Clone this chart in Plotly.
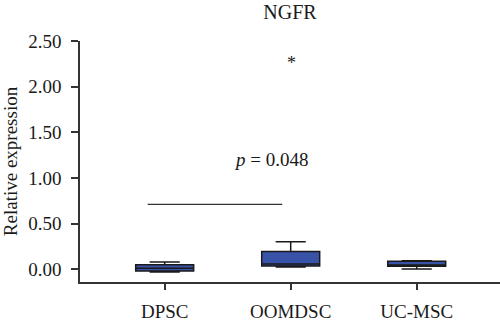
import plotly.graph_objects as go

# Relative NGFR expression per cell type (box summary statistics)
groups = ["DPSC", "OOMDSC", "UC-MSC"]
lower_whisker = [-0.03, 0.025, 0.003]
q1_values = [-0.02, 0.036, 0.032]
medians = [0.01, 0.057, 0.045]
q3_values = [0.05, 0.195, 0.086]
upper_whisker = [0.08, 0.30, 0.094]

# Significance annotation
sig_label = "<i>p</i> = 0.048"
sig_bar_y = 0.71
star_y = 2.26

y_ticks = [0.0, 0.5, 1.0, 1.5, 2.0, 2.5]
y_tick_text = ["0.00", "0.50", "1.00", "1.50", "2.00", "2.50"]

FONT = "Liberation Serif, Times New Roman, serif"
AXIS_COLOR = "#333333"
TEXT_COLOR = "#1a1a1a"

fig = go.Figure()
fig.add_trace(go.Box(
    x=groups,
    q1=q1_values,
    median=medians,
    q3=q3_values,
    lowerfence=lower_whisker,
    upperfence=upper_whisker,
    boxpoints=False,
    width=0.46,
    whiskerwidth=0.52,
    fillcolor="#3853A8",
    line=dict(color="#1a1a1a", width=1.5),
    showlegend=False,
))

# Bracket line between groups
fig.add_shape(type="line", xref="x", yref="y",
              x0=-0.135, x1=0.933, y0=sig_bar_y, y1=sig_bar_y,
              line=dict(color="#333333", width=1.3))

fig.add_annotation(x=0.84, y=1.2, xref="x", yref="y", text=sig_label,
                   showarrow=False, font=dict(family=FONT, size=19, color=TEXT_COLOR))
fig.add_annotation(x=1.01, y=star_y, xref="x", yref="y", text="*",
                   showarrow=False, font=dict(family=FONT, size=18, color=TEXT_COLOR))

fig.update_layout(
    width=500, height=322,
    margin=dict(l=80, r=0, t=41, b=37),
    paper_bgcolor="white", plot_bgcolor="white",
    font=dict(family=FONT, size=19, color=TEXT_COLOR),
    title=dict(text="NGFR", x=0.58, xref="container", xanchor="center",
               y=1 - 12 / 322, yref="container", yanchor="middle",
               font=dict(family=FONT, size=20, color=TEXT_COLOR)),
    xaxis=dict(
        type="category", range=[-0.672, 2.661],
        showline=True, linecolor=AXIS_COLOR, linewidth=1.5,
        ticks="outside", ticklen=6, tickwidth=1.5, tickcolor=AXIS_COLOR,
        showgrid=False, zeroline=False, ticklabelstandoff=5,
        tickfont=dict(family=FONT, size=19, color=TEXT_COLOR),
    ),
    yaxis=dict(
        range=[-0.14, 2.5],
        tickvals=y_ticks, ticktext=y_tick_text,
        showline=True, linecolor=AXIS_COLOR, linewidth=1.5,
        ticks="outside", ticklen=7, tickwidth=1.5, tickcolor=AXIS_COLOR,
        showgrid=False, zeroline=False, ticklabelstandoff=6,
        tickfont=dict(family=FONT, size=19, color=TEXT_COLOR),
        title=dict(text="Relative expression", standoff=8,
                   font=dict(family=FONT, size=19, color=TEXT_COLOR)),
    ),
)

fig.write_html("out.html")
